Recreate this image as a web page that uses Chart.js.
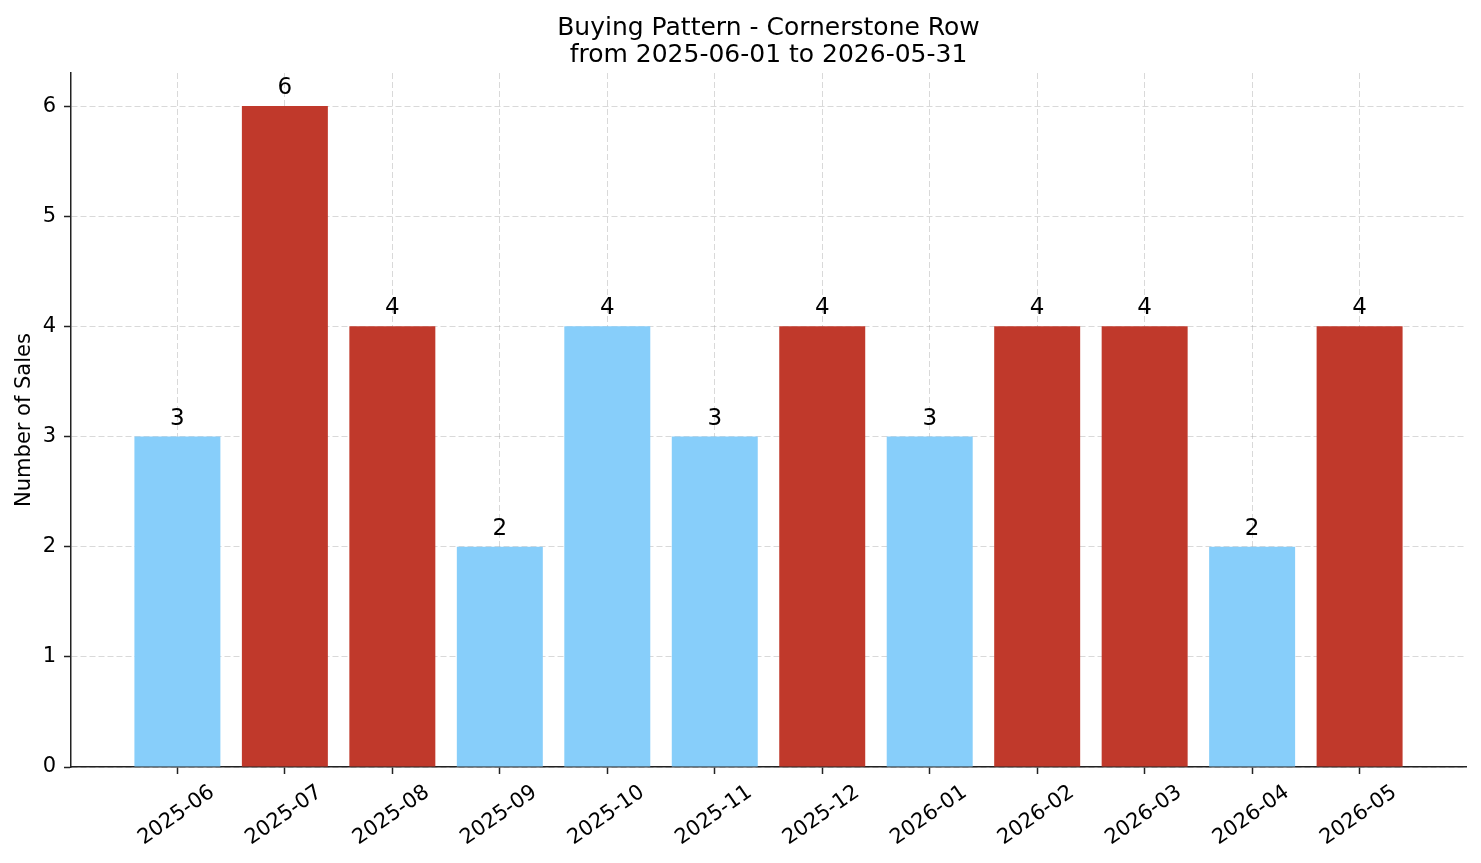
<!DOCTYPE html>
<html>
<head>
<meta charset="utf-8">
<script src="https://cdn.jsdelivr.net/npm/chart.js@4/dist/chart.umd.min.js"></script>
<style>
  html, body { margin: 0; padding: 0; background: #ffffff; }
  #wrap { width: 1481px; height: 863px; }
</style>
</head>
<body>
<div id="wrap"><canvas id="c" width="1481" height="863"></canvas></div>
<script>
const months = ["2025-06","2025-07","2025-08","2025-09","2025-10","2025-11","2025-12","2026-01","2026-02","2026-03","2026-04","2026-05"];
const sales = [3, 6, 4, 2, 4, 3, 4, 3, 4, 4, 2, 4];
const barColors = ["#87CEFA","#C0392B","#C0392B","#87CEFA","#87CEFA","#87CEFA","#C0392B","#87CEFA","#C0392B","#C0392B","#87CEFA","#C0392B"];
const yTicks = [0, 1, 2, 3, 4, 5, 6];
const titleLines = ["Buying Pattern - Cornerstone Row", "from 2025-06-01 to 2026-05-31"];
const yAxisTitle = "Number of Sales";

const FONT = "'DejaVu Sans', 'Liberation Sans', sans-serif";

const whiteBg = {
  id: 'whiteBg',
  beforeDraw(chart) {
    const ctx = chart.ctx;
    ctx.save();
    ctx.fillStyle = '#ffffff';
    ctx.fillRect(0, 0, chart.width, chart.height);
    ctx.restore();
  }
};

// center the title over the plot area, as matplotlib does
const titleOverPlot = {
  id: 'titleOverPlot',
  afterLayout(chart) {
    if (chart.titleBlock) {
      chart.titleBlock.left = chart.chartArea.left;
      chart.titleBlock.right = chart.chartArea.right;
    }
  }
};

const valueLabels = {
  id: 'valueLabels',
  afterDraw(chart) {
    const ctx = chart.ctx;
    const xs = chart.scales.x, ys = chart.scales.y;
    ctx.save();
    ctx.font = "23px " + FONT;
    ctx.fillStyle = '#000000';
    ctx.textAlign = 'center';
    ctx.textBaseline = 'alphabetic';
    sales.forEach((v, i) => {
      const px = xs.getPixelForValue(i);
      const py = ys.getPixelForValue(v + 0.1) - 1;
      ctx.fillText(String(v), px, py);
    });
    ctx.restore();
  }
};

const gridColor = 'rgba(170,170,170,0.45)';

new Chart(document.getElementById('c'), {
  type: 'bar',
  data: {
    datasets: [{
      data: sales.map((v, i) => ({ x: i, y: v })),
      backgroundColor: barColors,
      borderWidth: 0,
      barPercentage: 0.8,
      categoryPercentage: 1.0
    }]
  },
  options: {
    responsive: false,
    animation: false,
    devicePixelRatio: 1,
    layout: { padding: { left: 0, right: 15, top: 0, bottom: 0 } },
    plugins: {
      legend: { display: false },
      tooltip: { enabled: false },
      title: {
        display: true,
        text: titleLines,
        color: '#000000',
        font: { family: FONT, size: 25, weight: 'normal', lineHeight: 1.08 },
        padding: { top: 15, bottom: 4 }
      }
    },
    scales: {
      x: {
        type: 'linear',
        min: -0.99,
        max: 11.99,
        offset: false,
        z: 1,
        afterBuildTicks(scale) {
          scale.ticks = months.map((m, i) => ({ value: i }));
        },
        afterFit(scale) { scale.height = 96; },
        ticks: {
          autoSkip: false,
          minRotation: 35,
          maxRotation: 35,
          color: '#000000',
          font: { family: FONT, size: 21 },
          padding: 6,
          labelOffset: 35,
          callback: (v) => months[v] !== undefined ? months[v] : ''
        },
        grid: {
          offset: false,
          color: gridColor,
          lineWidth: 1,
          tickColor: '#222222',
          tickWidth: 1.5,
          tickLength: 7,
          drawTicks: true
        },
        border: { display: true, color: '#222222', width: 1.5, dash: [6, 3] }
      },
      y: {
        type: 'linear',
        min: 0,
        max: 6.3,
        z: 1,
        afterBuildTicks(scale) {
          scale.ticks = yTicks.map(v => ({ value: v }));
        },
        afterFit(scale) { scale.width = 71; },
        ticks: {
          color: '#000000',
          font: { family: FONT, size: 21 },
          padding: 8
        },
        title: {
          display: true,
          text: yAxisTitle,
          color: '#000000',
          font: { family: FONT, size: 21 },
          padding: { top: 12, bottom: 0 }
        },
        grid: {
          color: gridColor,
          lineWidth: 1,
          tickColor: '#222222',
          tickWidth: 1.5,
          tickLength: 7,
          drawTicks: true
        },
        border: { display: true, color: '#222222', width: 1.5, dash: [6, 3] }
      }
    }
  },
  plugins: [whiteBg, titleOverPlot, valueLabels]
});
</script>
</body>
</html>
